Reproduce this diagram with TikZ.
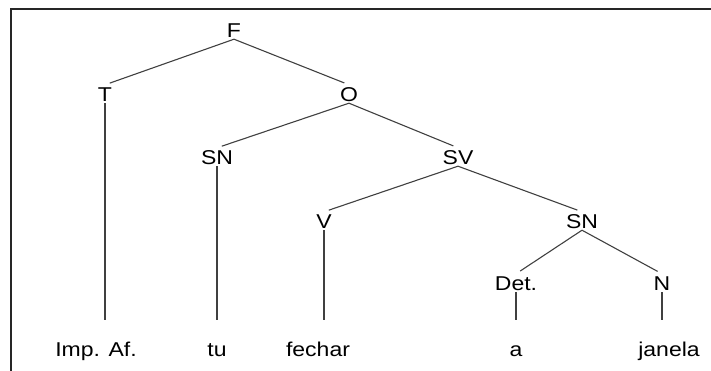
\documentclass[tikz,border=0pt]{standalone}
\usepackage{fontspec}
\setmainfont{Liberation Sans}[FakeStretch=1.15]
\begin{document}
\begin{tikzpicture}[x=1pt, y=-1pt,
	cat/.style={anchor=base, font=\fontsize{20}{24}\selectfont, inner xsep=0pt, inner ysep=2pt, text height=14pt, text depth=0pt},
	word/.style={cat, text depth=4pt},
	branch/.style={draw=black!75, line width=1.1pt, shorten >=5pt},
	stem/.style={draw=black!75, line width=1.1pt, shorten >=20pt}]
	\useasboundingbox (0,0) rectangle (711,370);
	\draw[line width=1.3pt, black!85] (11,371) -- (11,9) -- (712,9);

	%Kategoriene
	\node[cat] (F) at (234,37) {F};
	\node[cat] (T) at (105,101) {T};
	\node[cat] (O) at (349,101) {O};
	\node[cat] (SN) at (217,164) {SN};
	\node[cat] (SV) at (458,164) {SV};
	\node[cat] (V) at (324,228) {V};
	\node[cat] (SN2) at (582,228) {SN};
	\node[cat] (Det) at (516,290) {Det.};
	\node[cat] (N) at (662,290) {N};

	%Ordene
	\node[word] (imp) at (96,356) {Imp. Af.};
	\node[word] (tu) at (217,356) {tu};
	\node[word] (fechar) at (318,356) {fechar};
	\node[word] (a) at (516,356) {a};
	\node[word] (janela) at (669,356) {janela};

	%Grenene
	\draw[branch] (F.south) -- (T.north);
	\draw[branch] (F.south) -- (O.north);
	\draw[branch] (O.south) -- (SN.north);
	\draw[branch] (O.south) -- (SV.north);
	\draw[branch] (SV.south) -- (V.north);
	\draw[branch] (SV.south) -- (SN2.north);
	\draw[branch] (SN2.south) -- (Det.north);
	\draw[branch] (SN2.south) -- (N.north);
	\draw[stem] (T.south) -- (T.south |- imp.north);
	\draw[stem] (SN.south) -- (SN.south |- tu.north);
	\draw[stem] (V.south) -- (V.south |- fechar.north);
	\draw[stem] (Det.south) -- (Det.south |- a.north);
	\draw[stem] (N.south) -- (N.south |- janela.north);
\end{tikzpicture}
\end{document}
